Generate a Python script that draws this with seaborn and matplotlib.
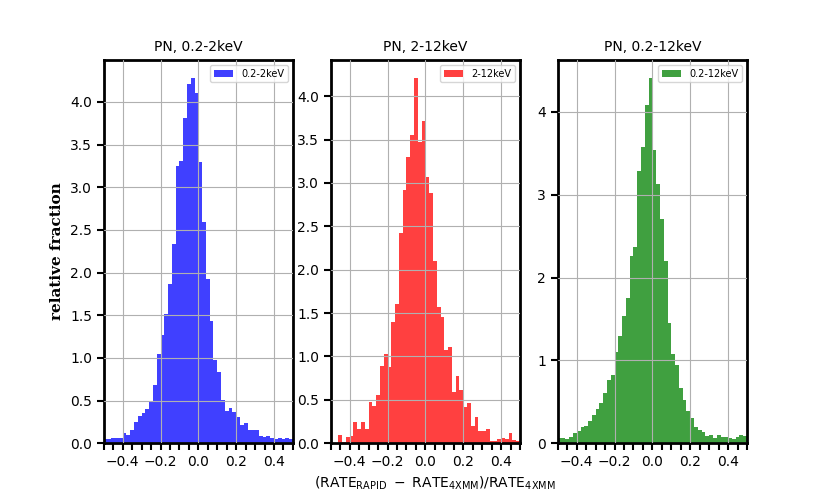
import numpy as np
import pandas as pd
import seaborn as sns
import matplotlib
matplotlib.use("Agg")
import matplotlib.pyplot as plt
from matplotlib.ticker import MultipleLocator

# bin edges shared by all panels (width 0.02 from -0.5 to 0.5)
bin_edges = np.linspace(-0.5, 0.5, 51)
bin_centers = 0.5 * (bin_edges[:-1] + bin_edges[1:])

soft_frac = [0.047, 0.052, 0.058, 0.06, 0.06, 0.12, 0.10, 0.15, 0.25, 0.32,
             0.355, 0.40, 0.50, 0.68, 1.05, 1.27, 1.52, 1.87, 2.34, 3.25,
             3.31, 3.81, 4.21, 4.28, 4.11, 3.29, 2.59, 1.93, 1.43, 0.98,
             0.83, 0.51, 0.38, 0.415, 0.365, 0.31, 0.215, 0.24, 0.15, 0.16,
             0.155, 0.088, 0.068, 0.083, 0.065, 0.045, 0.065, 0.044, 0.063, 0.045]
hard_frac = [0.0, 0.0, 0.10, 0.015, 0.07, 0.08, 0.24, 0.16, 0.24, 0.16,
             0.48, 0.43, 0.56, 0.89, 1.03, 0.88, 1.40, 1.60, 2.42, 2.92,
             3.30, 3.55, 4.21, 3.47, 3.71, 3.07, 2.88, 2.10, 1.57, 1.45,
             1.07, 1.11, 0.59, 0.78, 0.61, 0.42, 0.46, 0.20, 0.30, 0.14,
             0.14, 0.16, 0.03, 0.03, 0.045, 0.06, 0.048, 0.115, 0.035, 0.03]
full_frac = [0.068, 0.062, 0.056, 0.08, 0.12, 0.15, 0.19, 0.205, 0.27, 0.34,
             0.41, 0.49, 0.61, 0.76, 0.82, 1.10, 1.30, 1.54, 1.75, 2.26,
             2.375, 3.29, 3.58, 4.09, 4.41, 3.54, 3.13, 2.71, 2.20, 1.45,
             1.08, 0.95, 0.665, 0.52, 0.39, 0.30, 0.19, 0.16, 0.13, 0.09,
             0.10, 0.068, 0.10, 0.08, 0.076, 0.068, 0.056, 0.072, 0.096, 0.084]

bands = ['0.2-2keV', '2-12keV', '0.2-12keV']
colors = ['blue', 'red', 'green']
fractions = [soft_frac, hard_frac, full_frac]
ytick_steps = [0.5, 0.5, 1.0]

sns.set_style("ticks")
plt.rcParams['text.color'] = 'black'
plt.rcParams['axes.labelcolor'] = 'black'
plt.rcParams['xtick.color'] = 'black'
plt.rcParams['ytick.color'] = 'black'

fig, axes = plt.subplots(1, 3, figsize=(8.3, 4.98), dpi=100)

for ax, band, col, frac, step in zip(axes, bands, colors, fractions, ytick_steps):
    df = pd.DataFrame({'ratio': bin_centers, 'frac': frac})
    sns.histplot(data=df, x='ratio', weights='frac', binwidth=0.02,
                 binrange=(-0.5, 0.5), color=col, alpha=0.75, linewidth=0,
                 label=band, ax=ax)
    ax.set_xlim(-0.5, 0.5)
    ax.set_title('PN, ' + band, fontsize=10)
    ax.set_xlabel('')
    ax.set_ylabel('')
    ax.grid(True, color='#b0b0b0', linewidth=0.8)
    ax.set_axisbelow(False)
    ax.xaxis.set_major_locator(MultipleLocator(0.2))
    ax.xaxis.set_minor_locator(MultipleLocator(0.05))
    ax.yaxis.set_major_locator(MultipleLocator(step))
    ax.tick_params(which='both', direction='out', length=5, width=1.5,
                   labelsize=10, colors='black')
    for sp in ax.spines.values():
        sp.set_linewidth(2)
        sp.set_color('black')
    ax.legend(loc='upper right', fontsize=7)

axes[0].set_ylabel('relative fraction', family='serif', weight='bold', fontsize=11)
axes[1].set_xlabel(r'$(\rm RATE_{RAPID}\ -\ RATE_{4XMM})/RATE_{4XMM}$',
                   fontsize=10, x=0.548)

fig.savefig('out.png', dpi=100)
